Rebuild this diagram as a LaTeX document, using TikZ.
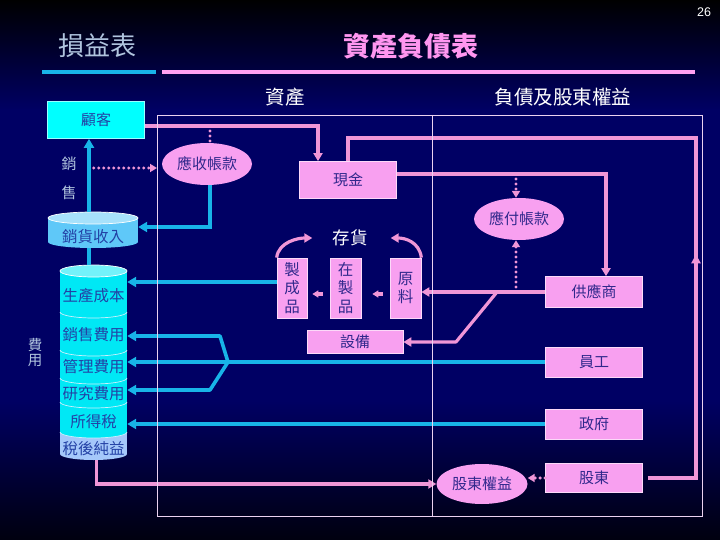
\documentclass[tikz,border=0pt]{standalone}
\usepackage{fontspec}
\setmainfont{Liberation Sans}
\newfontfamily\cjk{Noto Sans CJK TC}
\usetikzlibrary{arrows.meta,shapes.geometric,decorations.markings}
\definecolor{navy}{RGB}{0,0,100}
\definecolor{pinkfill}{RGB}{248,160,240}
\definecolor{pinkline}{RGB}{240,150,215}
\definecolor{pinktitle}{RGB}{255,150,240}
\definecolor{cyanline}{RGB}{24,180,232}
\definecolor{cyanbox}{RGB}{0,255,255}
\definecolor{stackfill}{RGB}{0,232,245}
\definecolor{salesfill}{RGB}{95,200,248}
\definecolor{netfill}{RGB}{165,200,250}
\definecolor{boxtext}{RGB}{48,40,140}
\definecolor{cyltext}{RGB}{35,65,165}
\definecolor{steel}{RGB}{176,196,222}
\definecolor{framecol}{RGB}{235,210,240}
\begin{document}
\begin{tikzpicture}[x=1pt,y=-1pt,
  pinkbox/.style={rectangle, fill=pinkfill, draw=white!60!pinkfill, line width=0.7pt, text=boxtext, font=\cjk\fontsize{15}{15}\selectfont, inner sep=0pt},
  vbox/.style={pinkbox, align=center, font=\cjk\fontsize{15.5}{18.5}\selectfont},
  pinkell/.style={ellipse, fill=pinkfill, text=boxtext, font=\cjk\fontsize{15}{15}\selectfont, inner sep=0pt},
  whitelbl/.style={text=white, font=\cjk\fontsize{19.5}{19.5}\selectfont, inner sep=0pt},
  steellbl/.style={text=steel, font=\cjk\fontsize{15}{15}\selectfont, inner sep=0pt},
  cyllbl/.style={text=cyltext, font=\cjk\fontsize{15.5}{15.5}\selectfont, inner sep=0pt},
  pline/.style={draw=pinkline, line width=3.2pt},
  parrow/.style={pline, -{Triangle[length=8pt,width=9pt]}},
  psmall/.style={pline, -{Triangle[length=6pt,width=7pt]}},
  pdots/.style={draw=pinkline, line width=3.4pt, line cap=round, dash pattern=on 0pt off 5pt},
  pdotarrow/.style={pdots, -{Triangle[length=7pt,width=8pt]}},
  cline/.style={draw=cyanline, line width=3.6pt},
  carrow/.style={cline, -{Triangle[length=9pt,width=10pt]}},
  sep/.style={draw=white!80!cyan, line width=0.7pt}
]
\useasboundingbox (0,0) rectangle (720,540);
% background
\fill[top color=black, bottom color=navy] (0,0) rectangle (720,110);
\fill[navy] (0,109) rectangle (720,400);
\fill[top color=navy, bottom color=black!85!navy] (0,399) rectangle (720,540);

% titles
\node[text=white, font=\fontsize{12.5}{12.5}\selectfont, inner sep=0pt] (pg) at (704,12) {26};
\node[text=steel, font=\cjk\fontsize{26}{26}\selectfont, inner sep=0pt] (pl) at (97,46) {損益表};
\node[text=pinktitle, font=\cjk\bfseries\fontsize{27}{27}\selectfont, inner sep=0pt] (bs) at (411,46) {資產負債表};
\draw[cyanline, line width=4pt] (42,72) -- (156,72);
\draw[pinktitle!90!white, line width=4pt] (162,72) -- (695,72);
\node[whitelbl] (assets) at (285,97) {資產};
\node[whitelbl] (liab) at (563,97) {負債及股東權益};

% sales revenue cylinder
\fill[salesfill] (48,218) rectangle (138,242);
\fill[salesfill] (93,242) ellipse [x radius=45, y radius=6];
\filldraw[fill=salesfill!55!white, draw=white, line width=0.7pt] (93,218) ellipse [x radius=45, y radius=6];
\node[minimum width=90, minimum height=36, inner sep=0pt] (xh) at (93,230) {};
\node[cyllbl] (xhl) at (93,237) {銷貨收入};

% expense stack cylinder
\fill[stackfill] (60,271) rectangle (127,454);
\fill[netfill] (60,432) rectangle (127,454);
\fill[netfill] (93.5,454) ellipse [x radius=33.5, y radius=6];
\fill[stackfill] (60,432) arc[start angle=180, end angle=0, x radius=33.5, y radius=6] -- cycle;
\foreach \yy in {312,350,378,402,432}
  \draw[sep] (60,\yy) arc[start angle=180, end angle=0, x radius=33.5, y radius=6];
\filldraw[fill=stackfill!55!white, draw=white, line width=0.7pt] (93.5,271) ellipse [x radius=33.5, y radius=6];
\node[minimum width=67, minimum height=195, inner sep=0pt] (stack) at (93.5,362.5) {};
\node[cyllbl] (scb) at (93.5,296) {生產成本};
\node[cyllbl] (xsf) at (93.5,335) {銷售費用};
\node[cyllbl] (glf) at (93.5,367) {管理費用};
\node[cyllbl] (yjf) at (93.5,394) {研究費用};
\node[cyllbl] (sds) at (93.5,422) {所得稅};
\node[cyllbl] (shj) at (93.5,449) {稅後純益};

% left labels
\node[steellbl] (xiao) at (69,164) {銷};
\node[steellbl] (shou) at (69,193) {售};
\node[steellbl, align=center, font=\cjk\fontsize{14.5}{15}\selectfont] (feiyong) at (35,353) {費\\用};

% boxes
\node[pinkbox, fill=cyanbox, draw=white!60!cyanbox, text=cyltext, minimum width=97, minimum height=37] (gk) at (96,120) {顧客};
\node[pinkell, minimum width=90, minimum height=42] (ar) at (207,164) {應收帳款};
\node[pinkbox, minimum width=97, minimum height=37] (cash) at (348,180) {現金};
\node[pinkell, minimum width=90, minimum height=42] (ap) at (519,219) {應付帳款};
\node[pinkbox, minimum width=97, minimum height=31] (sup) at (594,292) {供應商};
\node[pinkbox, minimum width=97, minimum height=30] (emp) at (594,362) {員工};
\node[pinkbox, minimum width=97, minimum height=30] (gov) at (594,424) {政府};
\node[pinkbox, minimum width=97, minimum height=29] (gd) at (594,478) {股東};
\node[pinkell, minimum width=91, minimum height=40] (se) at (482,484) {股東權益};
\node[vbox, minimum width=30, minimum height=60] (fg) at (292,288) {製\\成\\品};
\node[vbox, minimum width=31, minimum height=60] (wip) at (345.5,288) {在\\製\\品};
\node[vbox, minimum width=31, minimum height=60] (raw) at (405.5,288) {原\\料};
\node[pinkbox, minimum width=96, minimum height=23] (eq) at (355,342) {設備};
\node[text=white, font=\cjk\fontsize{17.5}{17.5}\selectfont, inner sep=0pt] (inv) at (350,238) {存貨};

% coordinates
\coordinate (loopR) at (696,138);
\coordinate (gkR) at ([yshift=-6pt]gk.east);
\coordinate (arIn) at (210,126);
\coordinate (arB) at ([xshift=3pt]ar.south);
\coordinate (xhT) at ([xshift=-4pt]xh.north);
\coordinate (dotS) at ([xshift=17pt,yshift=-4pt]xiao.east);
\coordinate (dotE) at (157,168);
\coordinate (cashR) at ([yshift=6pt]cash.east);
\coordinate (apIn) at (516,174);
\coordinate (apOut) at (516,292);
\coordinate (brA) at (497,292);
\coordinate (brB) at (456,342);
\coordinate (fgL) at ([yshift=6pt]fg.west);
\coordinate (fork) at (228,362);
\coordinate (fkU) at (220,336);
\coordinate (fkD) at (210,390);

% cyan connectors
\draw[carrow] (xhT) -- (xhT |- gk.south);
\draw[cline] (xhT |- xh.south) -- (xhT |- stack.north);
\draw[carrow] (arB) |- ([yshift=3pt]xh.east);
\draw[carrow] (fgL) -- (fgL -| stack.east);
\draw[carrow] (emp.west) -- (emp.west -| stack.east);
\draw[carrow, line join=round] (fork) -- (fkU) -- (fkU -| stack.east);
\draw[carrow, line join=round] (fork) -- (fkD) -- (fkD -| stack.east);
\draw[carrow] (gov.west) -- (gov.west -| stack.east);

% pink connectors
\draw[parrow] (gkR) -| ([xshift=-30pt]cash.north);
\draw[pdots] (arIn) -- (arIn |- ar.north);
\draw[pdotarrow] (dotS) -- (dotE);
\draw[pline, postaction={decorate}, decoration={markings, mark=at position 0.358 with {\arrow{Triangle[length=9pt,width=9pt]}}}] ([xshift=5pt]gd.east) -| (loopR) -| (cash.north);
\draw[parrow] (cashR) -| ([xshift=12pt]sup.north);
\draw[pdotarrow] (apIn) -- (apIn |- ap.north);
\draw[pdotarrow] (apOut) -- (apOut |- ap.south);
\draw[parrow] (sup.west) -- (sup.west -| raw.east);
\draw[parrow, line join=round] (brA) -- (brB) -- (brB -| eq.east);
\draw[psmall, shorten <=7pt, shorten >=11pt] ([yshift=-6pt]raw.west) -- ([yshift=-6pt]wip.east);
\draw[psmall, shorten <=7pt, shorten >=5pt] ([yshift=-6pt]wip.west) -- ([yshift=-6pt]fg.east);
\draw[parrow] (fg.north west) .. controls +(2,-16) and +(-14,0) .. ([xshift=-20pt]inv.west);
\draw[parrow] (raw.north east) .. controls +(-2,-16) and +(14,0) .. ([xshift=23pt]inv.east);
\draw[parrow] ([xshift=3pt]stack.south) |- (se.west);
\draw[pdotarrow] (gd.west) -- (gd.west -| se.east);

% frame
\draw[framecol, line width=0.8pt] (157,115) rectangle (702,516);
\draw[framecol, line width=0.8pt] (432,115) -- (432,516);
\end{tikzpicture}
\end{document}
